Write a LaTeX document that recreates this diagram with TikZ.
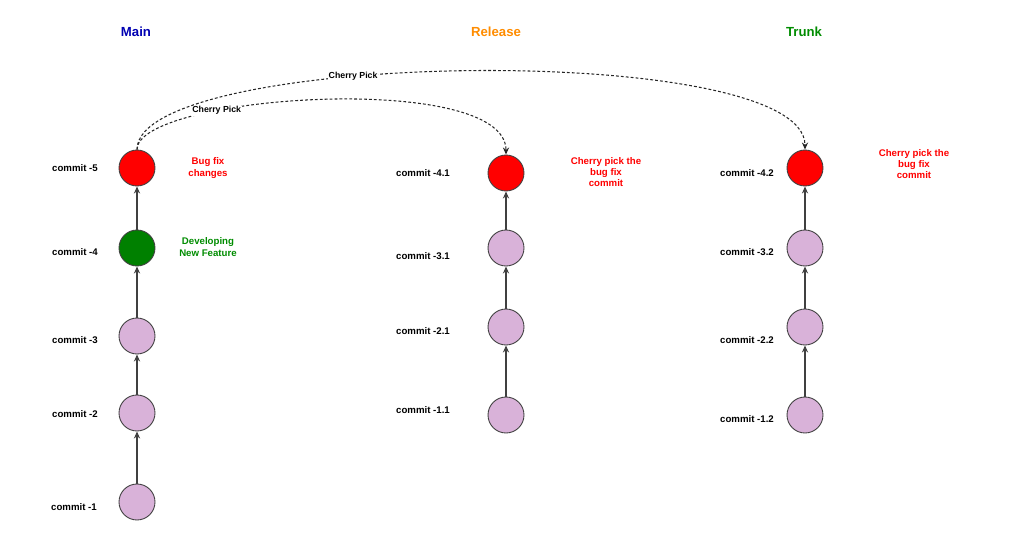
\documentclass[tikz,border=0pt]{standalone}
\usepackage{fontspec}
\setmainfont{Liberation Sans}
\usetikzlibrary{arrows.meta}
\begin{document}
\begin{tikzpicture}[x=0.02cm,y=-0.02cm,
  cnode/.style={circle,draw=black!75,line width=0.5pt,minimum size=0.72cm,inner sep=0pt,fill=violet!30!white},
  redc/.style={fill=red},
  grnc/.style={fill=green!50!black},
  lbl/.style={font=\fontsize{5.5}{6.5}\selectfont\bfseries},
  ann/.style={font=\fontsize{5.5}{6.5}\selectfont\bfseries,align=center},
  hdr/.style={font=\fontsize{7.5}{9}\selectfont\bfseries},
  ln/.style={draw=black!75,line width=0.6pt,-{Stealth[length=4pt,width=3.5pt]}},
  cp/.style={draw=black!85,line width=0.6pt,dash pattern=on 1.6pt off 1.2pt,-{Stealth[length=4pt,width=3.5pt]}},
  cpl/.style={font=\fontsize{5}{6}\selectfont\bfseries,fill=white,inner sep=0.5pt}]
\useasboundingbox (0,0) rectangle (1024,547);
\node[hdr,text=blue!70!black] (h1) at (136,32) {Main};
\node[hdr,text=orange!90!yellow] (h2) at (496,32) {Release};
\node[hdr,text=green!55!black] (h3) at (804,32) {Trunk};
% main
\node[cnode,redc] (m5) at (137,168) {};
\node[cnode,grnc] (m4) at (137,248) {};
\node[cnode] (m3) at (137,336) {};
\node[cnode] (m2) at (137,413) {};
\node[cnode] (m1) at (137,502) {};
% release
\node[cnode,redc] (r4) at (506,173) {};
\node[cnode] (r3) at (506,248) {};
\node[cnode] (r2) at (506,327) {};
\node[cnode] (r1) at (506,415) {};
% trunk
\node[cnode,redc] (t4) at (805,168) {};
\node[cnode] (t3) at (805,248) {};
\node[cnode] (t2) at (805,327) {};
\node[cnode] (t1) at (805,415) {};
\foreach \a/\b in {m1/m2,m2/m3,m3/m4,m4/m5,r1/r2,r2/r3,r3/r4,t1/t2,t2/t3,t3/t4}
  \draw[ln] (\a) -- (\b);
\node[lbl] (lm5) at (75,168) {commit -5};
\node[lbl] (lm4) at (75,252) {commit -4};
\node[lbl] (lm3) at (75,340) {commit -3};
\node[lbl] (lm2) at (75,414) {commit -2};
\node[lbl] (lm1) at (74,507) {commit -1};
\node[lbl] (lr4) at (423,173) {commit -4.1};
\node[lbl] (lr3) at (423,256) {commit -3.1};
\node[lbl] (lr2) at (423,331) {commit -2.1};
\node[lbl] (lr1) at (423,410) {commit -1.1};
\node[lbl] (lt4) at (747,173) {commit -4.2};
\node[lbl] (lt3) at (747,252) {commit -3.2};
\node[lbl] (lt2) at (747,340) {commit -2.2};
\node[lbl] (lt1) at (747,419) {commit -1.2};
\node[ann,text=red] (a1) at (208,168) {Bug fix\\changes};
\node[ann,text=green!55!black] (a2) at (208,247) {Developing\\New Feature};
\node[ann,text=red] (a3) at (606,172) {Cherry pick the\\bug fix\\commit};
\node[ann,text=red] (a4) at (914,164) {Cherry pick the\\bug fix\\commit};
\draw[cp] (m5.north) .. controls (137,95) and (506,70) .. (r4.north) node[cpl,pos=0.3] (c1) {Cherry Pick};
\draw[cp] (m5.north) .. controls (137,50) and (805,40) .. (t4.north) node[cpl,pos=0.38] (c2) {Cherry Pick};
\end{tikzpicture}
\end{document}
